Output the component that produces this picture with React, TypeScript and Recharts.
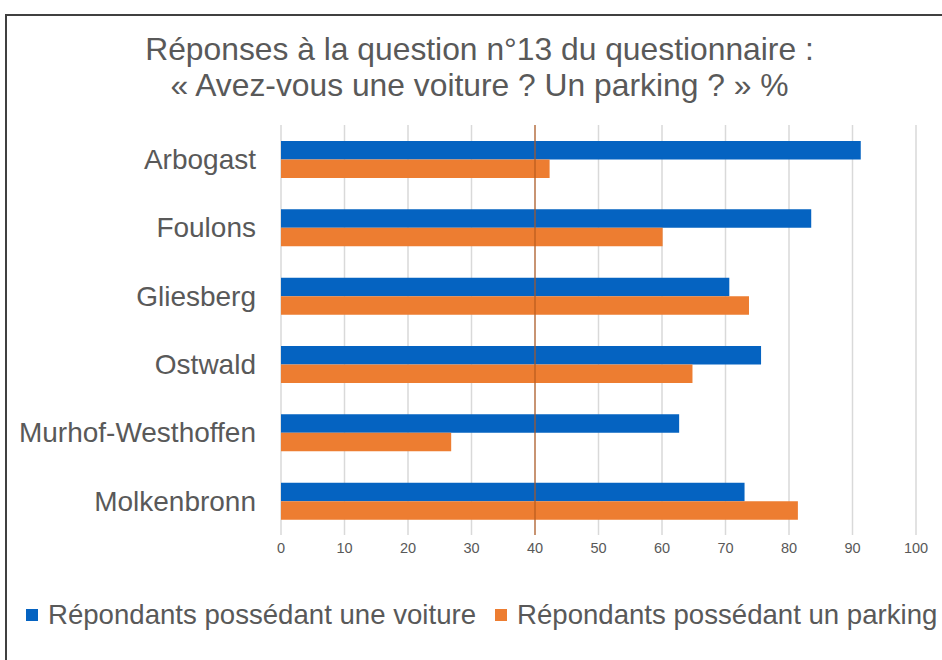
import React from "react";
import { BarChart, Bar, XAxis, YAxis, CartesianGrid, ReferenceLine, Legend } from "recharts";

const categories = ["Arbogast", "Foulons", "Gliesberg", "Ostwald", "Murhof-Westhoffen", "Molkenbronn"];
const voiture = [91.3, 83.5, 70.6, 75.6, 62.7, 73.0];
const parking = [42.3, 60.1, 73.7, 64.8, 26.8, 81.4];
const xTicks = [0, 10, 20, 30, 40, 50, 60, 70, 80, 90, 100];
const seriesNames = ["Répondants possédant une voiture", "Répondants possédant un parking"];
const titleLines = ["Réponses à la question n°13 du questionnaire :", "« Avez-vous une voiture ? Un parking ? » %"];

const data = categories.map((name, i) => ({ name, voiture: voiture[i], parking: parking[i] }));

const FONT = "'Liberation Sans', Arial, sans-serif";
const TEXT = "#595959";
const BLUE = "#0563C1";
const ORANGE = "#ED7D31";

const LegendContent = (props: any) => {
  const payload = [...(props.payload || [])].sort(
    (a: any, b: any) => seriesNames.indexOf(a.value) - seriesNames.indexOf(b.value)
  );
  return (
    <div style={{ display: "flex", alignItems: "center", fontFamily: FONT, fontSize: 27.6, color: TEXT, lineHeight: "32px", whiteSpace: "nowrap" }}>
      {payload.map((p: any, i: number) => (
        <div key={i} style={{ display: "flex", alignItems: "center", marginRight: 19 }}>
          <span style={{ display: "inline-block", width: 12, height: 12, background: p.color, marginRight: 10 }} />
          <span>{p.value}</span>
        </div>
      ))}
    </div>
  );
};

export default function App() {
  return (
    <div style={{ position: "absolute", left: 0, top: 0, width: 942, height: 660, overflow: "hidden", background: "#fff" }}>
      <div style={{ position: "absolute", left: 5, top: 14, width: 1000, height: 700, borderTop: "2px solid #404040", borderLeft: "2px solid #404040" }} />
      <div style={{ position: "absolute", left: 0, top: 0 }}>
        <BarChart
          width={942}
          height={660}
          data={data}
          layout="vertical"
          margin={{ top: 125, right: 26, left: 0, bottom: 95 }}
          barGap={0}
          barSize={18.5}
        >
          <CartesianGrid horizontal={false} vertical={true} stroke="#d9d9d9" strokeWidth={1.5} />
          <XAxis
            type="number"
            domain={[0, 100]}
            ticks={xTicks}
            axisLine={false}
            tickLine={false}
            height={30}
            tickMargin={2}
            tick={{ fill: TEXT, fontSize: 14.5, fontFamily: FONT }}
            interval={0}
          />
          <YAxis
            type="category"
            dataKey="name"
            width={281}
            axisLine={false}
            tickLine={false}
            tickMargin={19}
            interval={0}
            tick={{ fill: TEXT, fontSize: 28, fontFamily: FONT }}
          />
          <Bar dataKey="voiture" name={seriesNames[0]} fill={BLUE} isAnimationActive={false} />
          <Bar dataKey="parking" name={seriesNames[1]} fill={ORANGE} isAnimationActive={false} />
          <ReferenceLine x={40} stroke="#B4581C" strokeOpacity={0.75} strokeWidth={1.5} />
          <Legend
            layout="horizontal"
            verticalAlign="middle"
            align="center"
            content={<LegendContent />}
            wrapperStyle={{ top: 599, left: 26, width: 960, height: 32 }}
          />
        </BarChart>
      </div>
      <div style={{ position: "absolute", left: 0, top: 31, width: 959, textAlign: "center", fontFamily: FONT, fontSize: 31.8, lineHeight: "36px", color: TEXT, whiteSpace: "nowrap" }}>
        <div>{titleLines[0]}</div>
        <div>{titleLines[1]}</div>
      </div>
    </div>
  );
}
